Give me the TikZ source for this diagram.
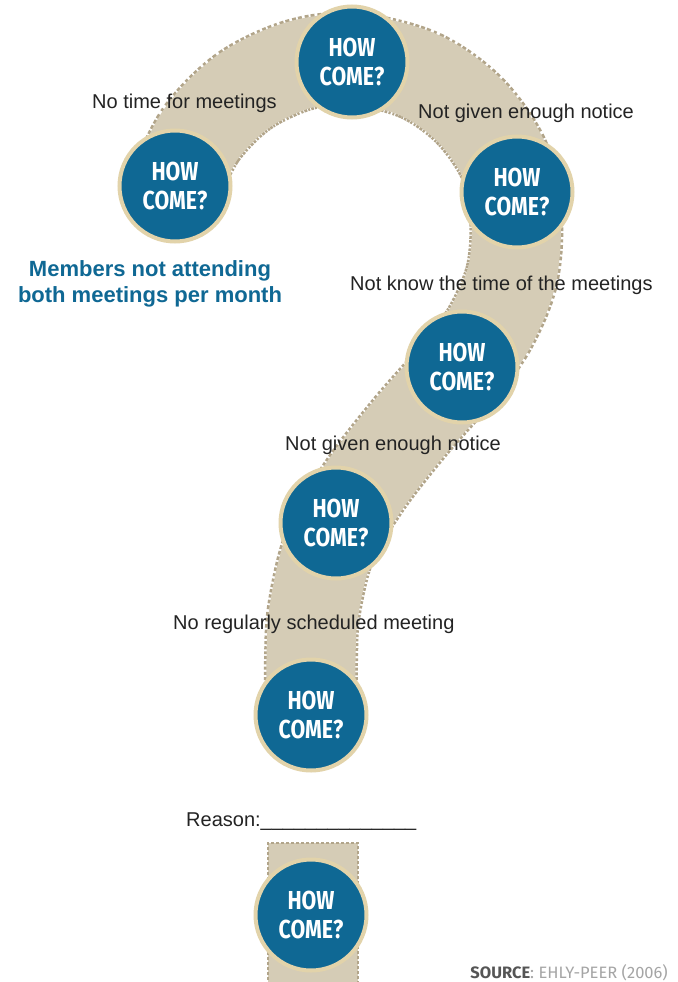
\documentclass[tikz,border=0pt]{standalone}
\usepackage{fontspec}
\setmainfont{Liberation Sans}
\newfontfamily\condfont[FakeStretch=0.82]{Fira Sans}
\newfontfamily\srcfont{Fira Sans}

\definecolor{bandtan}{RGB}{213,204,182}
\definecolor{bandedge}{RGB}{178,165,138}
\definecolor{ringtan}{RGB}{226,211,170}
\definecolor{hcblue}{RGB}{15,104,148}
\definecolor{labelgray}{RGB}{35,35,35}
\definecolor{srcdark}{RGB}{85,85,85}
\definecolor{srclight}{RGB}{165,165,165}

\begin{document}
\begin{tikzpicture}[x=1pt,y=-1pt,
  howcome/.style={circle, fill=hcblue, draw=ringtan, line width=4pt,
    minimum size=111pt, inner sep=0pt, text=white, align=center,
    font=\condfont\bfseries\fontsize{26}{29}\selectfont},
  lbl/.style={anchor=base west, inner sep=0pt, text=labelgray,
    font=\fontsize{20}{24}\selectfont},
  bandedgeline/.style={draw=bandedge, line width=94pt, dash pattern=on 3pt off 2pt},
  bandfill/.style={draw=bandtan, line width=89pt},
  edgestroke/.style={draw=bandedge, line width=2pt, dash pattern=on 3pt off 2pt}]

\useasboundingbox (0,0) rectangle (677,982);
\fill[white] (0,0) rectangle (677,982);

% the curved band of the question mark: dashed rim first, tan body on top
\foreach \st in {bandedgeline,bandfill}
  \draw[\st] plot[smooth, tension=0.55] coordinates {
    (175,186) (201,134) (244,91) (299,65) (354,59) (419,75) (469,110)
    (504,160) (516,215) (512,275) (490,328) (458,372) (410,427)
    (365,485) (330,545) (314,610) (311,660) (311,715)};

% the dot of the question mark
\fill[bandtan] (268,843) rectangle (358,990);
\draw[edgestroke] (268,990) -- (268,843) -- (358,843) -- (358,990);

% "how come?" discs
\node[howcome] (q1) at (352,62)  {HOW\\COME?};
\node[howcome] (q2) at (175,186) {HOW\\COME?};
\node[howcome] (q3) at (517,192) {HOW\\COME?};
\node[howcome] (q4) at (462,367) {HOW\\COME?};
\node[howcome] (q5) at (336,523) {HOW\\COME?};
\node[howcome] (q6) at (311,715) {HOW\\COME?};
\node[howcome] (q7) at (311,915) {HOW\\COME?};

% answers along the chain
\node[lbl] (a1) at (92,108)  {No time for meetings};
\node[lbl] (a2) at (418,118) {Not given enough notice};
\node[lbl] (a3) at (350,290) {Not know the time of the meetings};
\node[lbl] (a4) at (285,450) {Not given enough notice};
\node[lbl] (a5) at (173,629) {No regularly scheduled meeting};
\node[lbl] (a6) at (186,826) {Reason:\_\_\_\_\_\_\_\_\_\_\_\_\_\_};

% problem statement
\node[align=center, text=hcblue, inner sep=0pt,
      font=\bfseries\fontsize{22}{26}\selectfont] (problem) at (150,284)
      {Members not attending\\both meetings per month};

% source line
\node[anchor=base east, inner sep=0pt, font=\srcfont\fontsize{16.5}{19}\selectfont]
  (src) at (668,978)
  {\textcolor{srcdark}{\bfseries SOURCE}\textcolor{srclight}{: EHLY-PEER (2006)}};
\end{tikzpicture}
\end{document}
